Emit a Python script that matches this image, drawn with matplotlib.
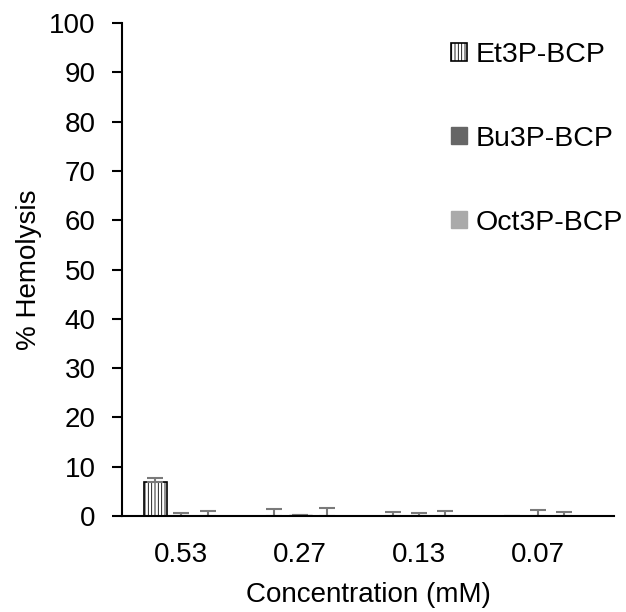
import matplotlib
matplotlib.use("Agg")
import matplotlib.pyplot as plt
import numpy as np

plt.rcParams['font.family'] = ['Liberation Sans', 'DejaVu Sans']
plt.rcParams['hatch.linewidth'] = 0.6

categories = ["0.53", "0.27", "0.13", "0.07"]
series_names = ["Et3P-BCP", "Bu3P-BCP", "Oct3P-BCP"]
et3p = [6.9, 0.0, 0.0, 0.0]
et3p_err = [0.8, 1.4, 0.8, 0.0]
bu3p = [0.1, 0.3, 0.1, 0.0]
bu3p_err = [0.5, 0.0, 0.5, 1.2]
oct3p = [0.0, 0.0, 0.0, 0.0]
oct3p_err = [1.0, 1.7, 1.0, 0.9]

FS = 20
W, H = 626, 612
fig = plt.figure(figsize=(W/100, H/100), dpi=100)
ax = fig.add_axes([122/W, 1-516/H, (614-122)/W, (516-23)/H])

x = np.arange(len(categories))
width = 0.194
off = 0.222
err_kw = dict(ecolor='#7a7a7a', elinewidth=1.5, capsize=6, capthick=1.5)

b1 = ax.bar(x - off, et3p, width, color='white', edgecolor='black', linewidth=1.2,
            hatch='|||||', label=series_names[0])
ax.errorbar(x - off, et3p, yerr=[np.zeros(4), et3p_err], fmt='none', **err_kw)
b2 = ax.bar(x, bu3p, width, color='#666666', edgecolor='#666666', label=series_names[1])
ax.errorbar(x, bu3p, yerr=[np.zeros(4), bu3p_err], fmt='none', **err_kw)
b3 = ax.bar(x + off, oct3p, width, color='#aaaaaa', edgecolor='#aaaaaa', label=series_names[2])
ax.errorbar(x + off, oct3p, yerr=[np.zeros(4), oct3p_err], fmt='none', **err_kw)

ax.set_xlim(-0.5, 3.64)
ax.set_ylim(0, 100)
ax.set_yticks(np.arange(0, 101, 10))
ax.set_xticks(x)
ax.set_xticklabels(categories)
ax.tick_params(axis='x', length=0, pad=19, labelsize=FS)
ax.tick_params(axis='y', length=7, width=1.5, direction='out', pad=12, labelsize=FS)
for s in ['top', 'right']:
    ax.spines[s].set_visible(False)
ax.spines['left'].set_linewidth(1.5)
ax.spines['bottom'].set_linewidth(1.5)
ax.set_ylabel("% Hemolysis", fontsize=FS, labelpad=5)
ax.set_xlabel("Concentration (mM)", fontsize=FS, labelpad=10)

leg = ax.legend(handles=[b1, b2, b3], loc='upper left', bbox_to_anchor=(451/W, 1-42/H),
                bbox_transform=fig.transFigure, frameon=False, fontsize=20.5,
                handlelength=0.55, handleheight=0.55, handletextpad=0.3, labelspacing=2.03,
                borderaxespad=0, borderpad=0)

fig.savefig("out.png", dpi=100)
